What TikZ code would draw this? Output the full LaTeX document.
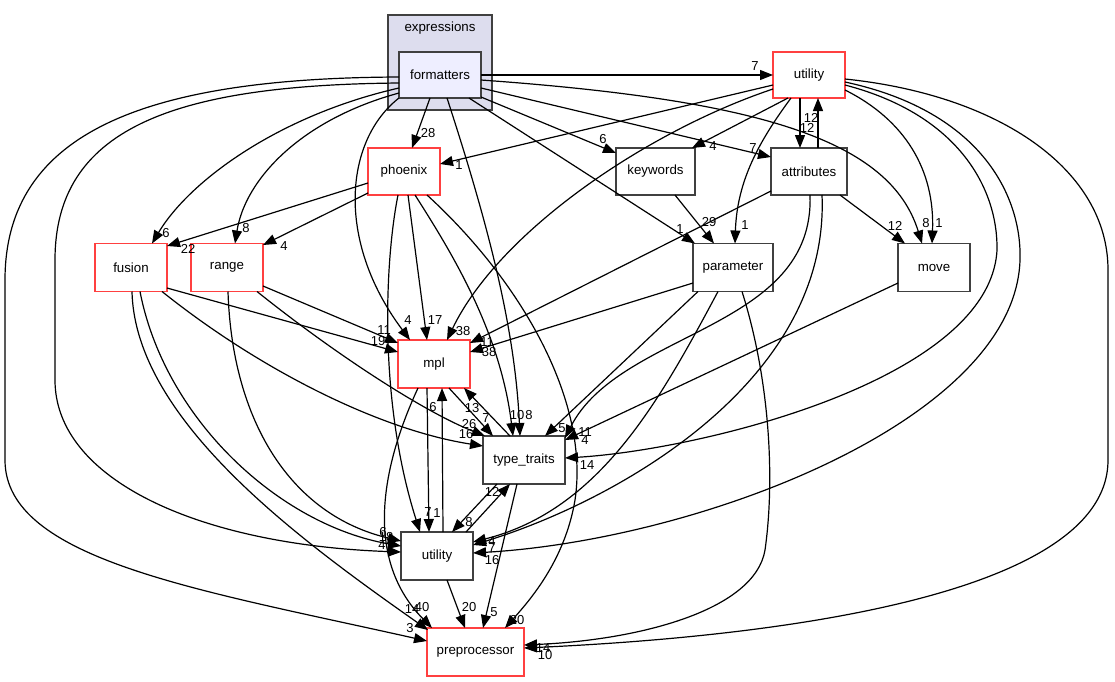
\documentclass[tikz,border=0pt]{standalone}
\usepackage{fontspec}
\setmainfont{Liberation Sans}
\usetikzlibrary{arrows.meta,calc}
\definecolor{redb}{RGB}{255,64,64}
\definecolor{grayb}{RGB}{64,64,64}
\definecolor{clfill}{RGB}{221,221,238}
\definecolor{fmtfill}{RGB}{238,238,255}
\begin{document}
\begin{tikzpicture}[x=1pt,y=-1pt,
  dirbox/.style={draw=grayb, line width=1.3pt, fill=white, inner sep=0pt, outer sep=0pt,
    font=\fontsize{13.3}{15}\selectfont, minimum width=72pt, minimum height=47pt},
  redbox/.style={dirbox, draw=redb},
  dep/.style={line width=1.2pt, -{Triangle[length=13pt,width=10pt]}},
  lbl/.style={font=\fontsize{13}{13}\selectfont, inner sep=0pt}]
\fill[white] (0,0) rectangle (1115,681);
\useasboundingbox (0,0) rectangle (1115,681);

% cluster
\node[draw=grayb, fill=clfill, line width=1.3pt, minimum width=104pt, minimum height=95pt, inner sep=0pt] (cl) at (440,62.5) {};
\node[font=\fontsize{13.3}{15}\selectfont, inner sep=0pt] (cltitle) at (440,28) {expressions};

% nodes
\node[dirbox, fill=fmtfill, minimum width=82pt, minimum height=46pt] (fmt) at (440,75) {formatters};
\node[redbox, minimum height=46pt] (utilT) at (809,75) {utility};
\node[redbox] (phoenix) at (404,171.5) {phoenix};
\node[dirbox, minimum width=79pt] (keywords) at (655.5,171.5) {keywords};
\node[dirbox, minimum width=76pt] (attributes) at (809,171.5) {attributes};
\node[redbox, minimum height=48pt] (fusion) at (131,267.5) {fusion};
\node[redbox, minimum height=48pt] (range) at (227,267.5) {range};
\node[dirbox, minimum width=80pt, minimum height=48pt] (parameter) at (733,267.5) {parameter};
\node[dirbox, minimum height=48pt] (move) at (934,267.5) {move};
\node[redbox, minimum height=48pt] (mpl) at (434,364) {mpl};
\node[dirbox, minimum width=82pt, minimum height=48pt] (tt) at (524,460) {type\_traits};
\node[dirbox, minimum height=48pt] (utilB) at (437,556) {utility};
\node[redbox, minimum width=97pt, minimum height=48pt] (pre) at (475.5,652) {preprocessor};

% formatters
\draw[dep] (fmt.east) -- (utilT.west);
\draw[dep] ($(fmt)+(-10,23)$) -- ($(phoenix)+(8,-23.5)$);
\draw[dep] ($(fmt)+(41,22)$) -- ($(keywords)+(-39.5,-18.5)$);
\draw[dep] ($(fmt)+(41,13)$) -- ($(attributes)+(-38,-14.5)$);
\draw[dep] ($(fmt)+(41,5)$) .. controls (760,100) and (890,140) .. ($(move)+(-12,-24)$);
\draw[dep] ($(fmt)+(29,23)$) -- ($(parameter)+(-38,-24)$);
\draw[dep] ($(fmt)+(7,23)$) .. controls (490,230) and (515,330) .. ($(tt)+(-4,-24)$);
\draw[dep] ($(fmt)+(-41,23)$) .. controls (345,140) and (335,240) .. ($(mpl)+(-24,-24)$);
\draw[dep] ($(fmt)+(-41,18)$) .. controls (300,120) and (245,180) .. ($(range)+(8,-24)$);
\draw[dep] ($(fmt)+(-41,13)$) .. controls (280,115) and (190,180) .. ($(fusion)+(21,-24)$);
\draw[dep] ($(fmt)+(-41,8)$) .. controls (170,85) and (55,130) .. (55,260) -- (55,380) .. controls (55,480) and (200,545) .. ($(utilB)+(-36,-4)$);
\draw[dep] ($(fmt)+(-41,2)$) .. controls (150,78) and (5,130) .. (5,280) -- (5,460) .. controls (5,560) and (200,590) .. ($(pre)+(-48.5,-11)$);

% utility (top)
\draw[dep] ($(utilT)+(-36,10)$) -- ($(phoenix)+(36,-7.5)$);
\draw[dep] ($(utilT)+(-36,14)$) .. controls (650,130) and (500,230) .. ($(mpl)+(13,-24)$);
\draw[dep] ($(utilT)+(-21,23)$) -- ($(keywords)+(36.5,-23.5)$);
\draw[dep] ($(utilT)+(-18,23)$) .. controls (760,140) and (737,180) .. ($(parameter)+(2,-24)$);
\draw[dep] ($(utilT)+(-9,23)$) -- ($(attributes)+(-9,-23.5)$);
\draw[dep] ($(attributes)+(9,-23.5)$) -- ($(utilT)+(9,23)$);
\draw[dep] ($(utilT)+(36,15)$) .. controls (905,120) and (935,170) .. ($(move)+(-2,-24)$);
\draw[dep] ($(utilT)+(36,10)$) .. controls (960,115) and (998,190) .. (997,250) .. controls (990,380) and (700,450) .. ($(tt)+(41,-2)$);
\draw[dep] ($(utilT)+(36,7)$) .. controls (985,112) and (1022,200) .. (1020,260) .. controls (1015,420) and (700,540) .. ($(utilB)+(36,-3)$);
\draw[dep] ($(utilT)+(36,4)$) .. controls (1000,95) and (1108,170) .. (1108,270) -- (1108,460) .. controls (1108,610) and (700,640) .. ($(pre)+(48.5,-4)$);

% attributes
\draw[dep] ($(attributes)+(31,23.5)$) -- ($(move)+(-29,-24)$);
\draw[dep] ($(attributes)+(-38,19.5)$) -- ($(mpl)+(36,-21)$);
\draw[dep] ($(attributes)+(1,23.5)$) .. controls (815,330) and (620,330) .. ($(tt)+(41,-22)$);
\draw[dep] ($(attributes)+(13,23.5)$) .. controls (830,380) and (620,500) .. ($(utilB)+(36,-11)$);

% keywords
\draw[dep] ($(keywords)+(19.5,23.5)$) -- ($(parameter)+(-19,-24)$);

% parameter
\draw[dep] ($(parameter)+(-40,15.5)$) -- ($(mpl)+(36,-12)$);
\draw[dep] ($(parameter)+(-35,24)$) -- ($(tt)+(21,-24)$);
\draw[dep] ($(parameter)+(-15,24)$) .. controls (660,400) and (600,510) .. ($(utilB)+(36,-14)$);
\draw[dep] ($(parameter)+(9,24)$) .. controls (770,380) and (775,480) .. (765,550) .. controls (755,610) and (640,640) .. ($(pre)+(48.5,-7)$);

% move
\draw[dep] ($(move)+(-36,15.5)$) -- ($(tt)+(41,-20)$);

% phoenix
\draw[dep] ($(phoenix)+(-36,11.5)$) -- ($(fusion)+(36,-21.5)$);
\draw[dep] ($(phoenix)+(-36,21.5)$) -- ($(range)+(36,-22.5)$);
\draw[dep] ($(phoenix)+(4,23.5)$) -- ($(mpl)+(-7,-24)$);
\draw[dep] ($(phoenix)+(-6,23.5)$) .. controls (385,260) and (378,400) .. ($(utilB)+(-17,-24)$);
\draw[dep] ($(phoenix)+(11,23.5)$) .. controls (450,250) and (500,330) .. ($(tt)+(-11,-24)$);
\draw[dep] ($(phoenix)+(23,23.5)$) .. controls (520,280) and (590,400) .. (575,500) .. controls (565,560) and (530,600) .. ($(pre)+(29.5,-24)$);

% mpl
\draw[dep] ($(mpl)+(15,24)$) -- ($(tt)+(-31,-24)$);
\draw[dep] ($(tt)+(-14,-24)$) -- ($(mpl)+(30,24)$);
\draw[dep] ($(mpl)+(-7,24)$) -- ($(utilB)+(-8,-24)$);
\draw[dep] ($(utilB)+(6,-24)$) -- ($(mpl)+(8,24)$);
\draw[dep] ($(mpl)+(-16,24)$) .. controls (380,470) and (365,560) .. ($(pre)+(-43.5,-24)$);

% type_traits / utility
\draw[dep] ($(tt)+(-27,24)$) -- ($(utilB)+(15,-24)$);
\draw[dep] ($(utilB)+(29,-24)$) -- ($(tt)+(-14,24)$);
\draw[dep] ($(tt)+(-7,24)$) -- ($(pre)+(7.5,-24)$);
\draw[dep] ($(utilB)+(10,24)$) -- ($(pre)+(-10.5,-24)$);

% fusion / range
\draw[dep] ($(fusion)+(36,20.5)$) -- ($(mpl)+(-36,-12)$);
\draw[dep] ($(fusion)+(31,24)$) .. controls (260,370) and (380,430) .. ($(tt)+(-41,-14)$);
\draw[dep] ($(range)+(30,24)$) .. controls (330,350) and (420,410) .. ($(tt)+(-39,-24)$);
\draw[dep] ($(range)+(36,18.5)$) -- ($(mpl)+(-36,-21)$);
\draw[dep] ($(range)+(1,24)$) .. controls (232,420) and (290,515) .. ($(utilB)+(-36,-15)$);
\draw[dep] ($(fusion)+(9,24)$) .. controls (165,420) and (280,525) .. ($(utilB)+(-36,-10)$);
\draw[dep] ($(fusion)+(1,24)$) .. controls (135,420) and (300,540) .. ($(pre)+(-47.5,-22)$);

% labels
\node[lbl] (l1) at (755,66) {7};
\node[lbl] (l2) at (428,133) {28};
\node[lbl] (l3) at (603,139) {6};
\node[lbl] (l4) at (753,148) {7};
\node[lbl] (l5) at (926,223) {8};
\node[lbl] (l6) at (680,229) {1};
\node[lbl] (l7) at (529,415) {8};
\node[lbl] (l8) at (408,320) {4};
\node[lbl] (l9) at (246,228) {8};
\node[lbl] (l10) at (166,233) {6};
\node[lbl] (l11) at (382,545) {4};
\node[lbl] (l12) at (410,628) {3};
\node[lbl] (l13) at (459,165) {1};
\node[lbl] (l14) at (463,331) {38};
\node[lbl] (l15) at (713,146) {4};
\node[lbl] (l16) at (745,225) {1};
\node[lbl] (l17) at (811,118) {12};
\node[lbl] (l18) at (807,128) {12};
\node[lbl] (l19) at (939,223) {1};
\node[lbl] (l20) at (587,465) {14};
\node[lbl] (l21) at (492,560) {16};
\node[lbl] (l22) at (545,655) {10};
\node[lbl] (l23) at (895,226) {12};
\node[lbl] (l24) at (487,342) {11};
\node[lbl] (l25) at (585,432) {11};
\node[lbl] (l26) at (492,548) {7};
\node[lbl] (l27) at (709,222) {29};
\node[lbl] (l28) at (489,352) {38};
\node[lbl] (l29) at (562,428) {5};
\node[lbl] (l30) at (492,541) {4};
\node[lbl] (l31) at (543,648) {14};
\node[lbl] (l32) at (585,440) {4};
\node[lbl] (l33) at (188,249) {22};
\node[lbl] (l34) at (284,246) {4};
\node[lbl] (l35) at (435,320) {17};
\node[lbl] (l36) at (428,512) {7};
\node[lbl] (l37) at (517,415) {10};
\node[lbl] (l38) at (517,620) {20};
\node[lbl] (l39) at (486,418) {7};
\node[lbl] (l40) at (472,408) {13};
\node[lbl] (l41) at (437,513) {1};
\node[lbl] (l42) at (433,407) {6};
\node[lbl] (l43) at (422,607) {40};
\node[lbl] (l44) at (469,522) {8};
\node[lbl] (l45) at (492,492) {12};
\node[lbl] (l46) at (494,612) {5};
\node[lbl] (l47) at (469,607) {20};
\node[lbl] (l48) at (378,341) {19};
\node[lbl] (l49) at (466,434) {16};
\node[lbl] (l50) at (469,424) {26};
\node[lbl] (l51) at (384,330) {11};
\node[lbl] (l52) at (383,532) {6};
\node[lbl] (l53) at (386,537) {18};
\node[lbl] (l54) at (412,609) {14};
\end{tikzpicture}
\end{document}
